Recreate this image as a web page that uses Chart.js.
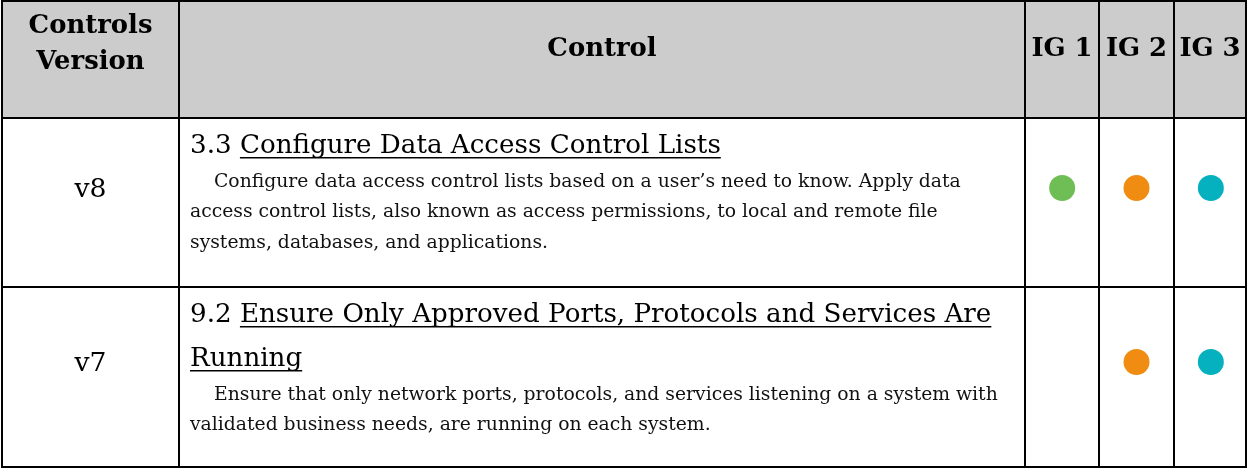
<!DOCTYPE html>
<html>
<head>
<meta charset="utf-8">
<script src="https://cdn.jsdelivr.net/npm/chart.js@4.4.1/dist/chart.umd.min.js"></script>
<style>
  html, body { margin: 0; padding: 0; background: #fff; }
  canvas { display: block; }
</style>
</head>
<body>
<canvas id="myChart" width="1248" height="468"></canvas>
<script>
// Table contents
var versions = ['v8', 'v7'];
var safeguards = ['3.3', '9.2'];
var titles = [
  ['Configure Data Access Control Lists'],
  ['Ensure Only Approved Ports, Protocols and Services Are', 'Running']
];
var descriptions = [
  ['Configure data access control lists based on a user\u2019s need to know. Apply data',
   'access control lists, also known as access permissions, to local and remote file',
   'systems, databases, and applications.'],
  ['Ensure that only network ports, protocols, and services listening on a system with',
   'validated business needs, are running on each system.']
];
var headers = ['Controls\nVersion', 'Control'];
var igLabels = ['IG 1', 'IG 2', 'IG 3'];
// 1 = safeguard applies to that implementation group
var ig1 = [1, 0];
var ig2 = [1, 1];
var ig3 = [1, 1];
var igColors = ['#6fbe55', '#f08c12', '#05b1bf'];

// table layout (pixels)
var colX = [2, 179, 1025, 1099, 1174, 1246];
var rowY = [1, 118, 287, 467];
var FONT = '"DejaVu Serif", "Liberation Serif", serif';

function fit(ctx, text, width, weight) {
  ctx.font = weight + ' 100px ' + FONT;
  return 100 * width / ctx.measureText(text).width;
}

var tablePlugin = {
  id: 'table',
  beforeDraw: function (chart) {
    var ctx = chart.ctx;
    var headSize = fit(ctx, 'Controls', 124, 'bold');
    var titleSize = fit(ctx, '3.3 Configure Data Access Control Lists', 531, 'normal');
    var descSize = fit(ctx, descriptions[0][1], 748, 'normal');
    var verSize = fit(ctx, 'v8', 32, 'normal');

    ctx.save();
    ctx.fillStyle = '#ffffff';
    ctx.fillRect(0, 0, chart.width, chart.height);
    ctx.fillStyle = '#cccccc';
    ctx.fillRect(colX[0], rowY[0], colX[5] - colX[0], rowY[1] - rowY[0]);

    // header
    ctx.fillStyle = '#000';
    ctx.textAlign = 'center';
    ctx.textBaseline = 'alphabetic';
    ctx.font = 'bold ' + headSize + 'px ' + FONT;
    var h0 = headers[0].split('\n');
    ctx.fillText(h0[0], (colX[0] + colX[1]) / 2, 33);
    ctx.fillText(h0[1], (colX[0] + colX[1]) / 2, 69);
    ctx.fillText(headers[1], (colX[1] + colX[2]) / 2, 56);
    igLabels.forEach(function (lab, i) {
      ctx.fillText(lab, (colX[i + 2] + colX[i + 3]) / 2, 56);
    });

    // body rows
    var yScale = chart.scales.y;
    versions.forEach(function (v, r) {
      var yc = yScale.getPixelForValue(r);
      ctx.textAlign = 'center';
      ctx.font = verSize + 'px ' + FONT;
      ctx.fillText(v, (colX[0] + colX[1]) / 2, yc + verSize * 0.34);

      ctx.textAlign = 'left';
      var left = colX[1] + 11;
      var base = rowY[r + 1] + 35;
      ctx.font = titleSize + 'px ' + FONT;
      titles[r].forEach(function (line, k) {
        var x = left;
        if (k === 0) {
          var id = safeguards[r] + ' ';
          ctx.fillText(id, x, base);
          x += ctx.measureText(id).width;
        }
        ctx.fillText(line, x, base);
        var w = ctx.measureText(line).width;
        ctx.fillRect(x, base + 4, w, 1.5);
        if (k < titles[r].length - 1) base += 44;
      });

      base += 33.5;
      ctx.font = descSize + 'px ' + FONT;
      ctx.fillStyle = '#111';
      descriptions[r].forEach(function (line, k) {
        ctx.fillText(line, left + (k === 0 ? 24 : 0), base);
        base += 30.5;
      });
      ctx.fillStyle = '#000';
    });

    // grid
    ctx.strokeStyle = '#000';
    ctx.lineWidth = 2;
    ctx.lineCap = 'square';
    ctx.beginPath();
    rowY.forEach(function (y) {
      ctx.moveTo(colX[0], y);
      ctx.lineTo(colX[5], y);
    });
    colX.forEach(function (x) {
      ctx.moveTo(x, rowY[0]);
      ctx.lineTo(x, rowY[3]);
    });
    ctx.stroke();
    ctx.restore();
  }
};

function igPoints(flags, lab) {
  var pts = [];
  flags.forEach(function (f, r) {
    if (f) pts.push({ x: lab, y: versions[r] });
  });
  return pts;
}

var igFlags = [ig1, ig2, ig3];
var datasets = igLabels.map(function (lab, i) {
  return {
    label: lab,
    data: igPoints(igFlags[i], lab),
    backgroundColor: igColors[i],
    borderWidth: 0,
    pointRadius: 13,
    pointHoverRadius: 13
  };
});

var ctx = document.getElementById('myChart');
var myChart = new Chart(ctx, {
  type: 'scatter',
  data: { datasets: datasets },
  options: {
    responsive: false,
    animation: false,
    devicePixelRatio: 1,
    events: [],
    layout: {
      autoPadding: false,
      padding: { left: 1025, right: 0, top: 101, bottom: 19 }
    },
    scales: {
      x: { type: 'category', labels: igLabels, offset: true, display: false },
      y: { type: 'category', labels: versions, offset: true, display: false }
    },
    plugins: {
      legend: { display: false },
      tooltip: { enabled: false }
    }
  },
  plugins: [tablePlugin]
});
</script>
</body>
</html>
